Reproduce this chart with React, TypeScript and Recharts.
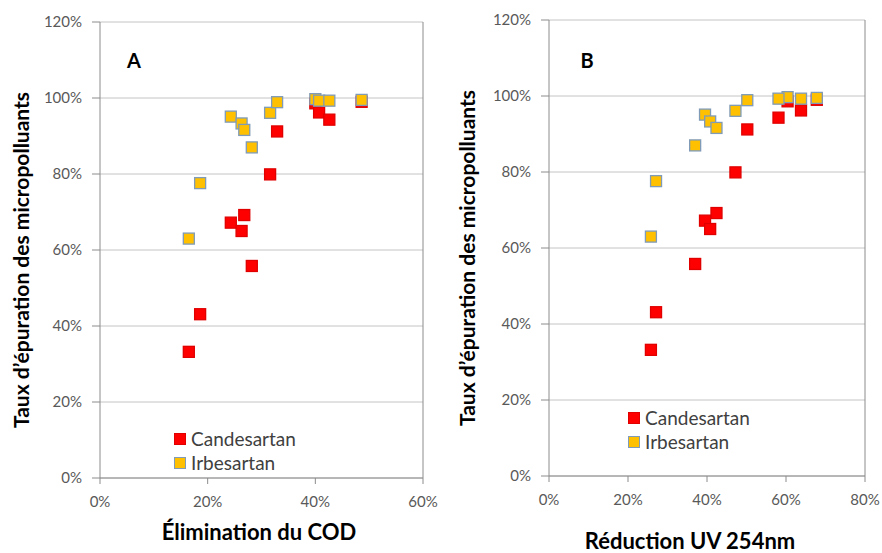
import { ScatterChart, Scatter, XAxis, YAxis, CartesianGrid, Legend, ReferenceLine } from 'recharts'

// values, in %
const codRemoval = [16.5, 18.6, 24.3, 26.3, 26.8, 28.2, 31.6, 32.9, 40.0, 40.7, 42.6, 48.6]
const uvReduction = [25.8, 27.1, 39.5, 40.8, 42.4, 37.0, 47.2, 50.2, 60.4, 63.8, 58.1, 67.8]
const candesartan = [33.2, 43.1, 67.2, 65.0, 69.2, 55.8, 79.9, 91.2, 98.6, 96.2, 94.3, 99.0]
const irbesartan = [63.0, 77.6, 95.1, 93.3, 91.6, 87.0, 96.1, 98.9, 99.7, 99.3, 99.3, 99.5]

const yTicks = [0, 20, 40, 60, 80, 100, 120]
const xTicksA = [0, 20, 40, 60]
const xTicksB = [0, 20, 40, 60, 80]

const FONT = 'Lato, "Open Sans", sans-serif'
const RED = '#ff0000'
const YELLOW = '#ffc000'
const YELLOW_EDGE = '#7f9bb8'
const AXIS = '#8c8c8c'
const GRID = '#c4c4c4'
const TICK = { fill: '#595959', fontSize: 15, fontFamily: FONT }

const series = [
  { name: 'Candesartan', values: candesartan, fill: RED, stroke: '#e00000' },
  { name: 'Irbesartan', values: irbesartan, fill: YELLOW, stroke: YELLOW_EDGE },
]

const toPoints = (xs: number[], ys: number[]) => xs.map((x, i) => ({ x, y: ys[i] }))

const square = (fill: string, stroke: string) => (props: any) => {
  const { cx, cy } = props
  if (cx == null || cy == null) return <g />
  return <rect x={cx - 5.5} y={cy - 5.5} width={11} height={11} fill={fill} stroke={stroke} strokeWidth={1.3} />
}

const LegendBox = () => (
  <div style={{ fontFamily: FONT, fontSize: 19, color: '#404040', lineHeight: '24px' }}>
    {series.map((s) => (
      <div key={s.name} style={{ display: 'flex', alignItems: 'center', whiteSpace: 'nowrap' }}>
        <span
          style={{
            display: 'inline-block',
            width: 10,
            height: 10,
            background: s.fill,
            border: `1px solid ${s.stroke}`,
            marginRight: 5,
          }}
        />
        {s.name}
      </div>
    ))}
  </div>
)

type PanelProps = {
  xs: number[]
  xMax: number
  xTicks: number[]
  yAxisWidth: number
  margin: { top: number; right: number; bottom: number; left: number }
  legendPos: { left: number; top: number }
}

function Panel({ xs, xMax, xTicks, yAxisWidth, margin, legendPos }: PanelProps) {
  return (
    <ScatterChart width={441} height={553} margin={margin}>
      <CartesianGrid vertical={false} stroke={GRID} horizontalValues={yTicks} />
      <XAxis
        type='number'
        dataKey='x'
        domain={[0, xMax]}
        ticks={xTicks}
        tickFormatter={(v) => `${v}%`}
        stroke={AXIS}
        tick={TICK}
        tickSize={6}
        tickMargin={12}
        height={30}
        interval={0}
      />
      <YAxis
        type='number'
        dataKey='y'
        domain={[0, 120]}
        ticks={yTicks}
        tickFormatter={(v) => `${v}%`}
        stroke={AXIS}
        tick={TICK}
        tickSize={8}
        tickMargin={10}
        width={yAxisWidth}
        interval={0}
      />
      <ReferenceLine x={xMax} stroke={AXIS} />
      <Legend
        layout='vertical'
        align='center'
        verticalAlign='middle'
        content={<LegendBox />}
        wrapperStyle={{ left: legendPos.left, top: legendPos.top, width: 'auto' }}
      />
      {series.map((s) => (
        <Scatter
          key={s.name}
          name={s.name}
          data={toPoints(xs, s.values)}
          shape={square(s.fill, s.stroke)}
          isAnimationActive={false}
        />
      ))}
    </ScatterChart>
  )
}

const titleStyle = { fontFamily: FONT, fontWeight: 700, fill: '#000' } as const

export default function App() {
  return (
    <div style={{ position: 'absolute', left: 0, top: 0, width: 882, height: 553, background: '#fff' }}>
      <div style={{ position: 'absolute', left: 0, top: 0 }}>
        <Panel
          xs={codRemoval}
          xMax={60}
          xTicks={xTicksA}
          yAxisWidth={100}
          margin={{ top: 22, right: 18, bottom: 45, left: 0 }}
          legendPos={{ left: 174, top: 427 }}
        />
      </div>
      <div style={{ position: 'absolute', left: 441, top: 0 }}>
        <Panel
          xs={uvReduction}
          xMax={80}
          xTicks={xTicksB}
          yAxisWidth={108}
          margin={{ top: 20, right: 17, bottom: 47, left: 0 }}
          legendPos={{ left: 187, top: 406 }}
        />
      </div>
      <svg
        width={882}
        height={553}
        style={{ position: 'absolute', left: 0, top: 0, pointerEvents: 'none' }}
      >
        <text x={134} y={68} textAnchor='middle' fontSize={20} {...titleStyle}>A</text>
        <text x={587} y={68} textAnchor='middle' fontSize={20} {...titleStyle}>B</text>
        <text
          x={22}
          y={260}
          dy='0.35em'
          textAnchor='middle'
          fontSize={21}
          transform='rotate(-90 22 260)'
          {...titleStyle}
        >
          Taux d’épuration des micropolluants
        </text>
        <text
          x={468}
          y={258}
          dy='0.35em'
          textAnchor='middle'
          fontSize={21}
          transform='rotate(-90 468 258)'
          {...titleStyle}
        >
          Taux d’épuration des micropolluants
        </text>
        <text x={259} y={540} textAnchor='middle' fontSize={22} {...titleStyle}>Élimination du COD</text>
        <text x={690} y={549} textAnchor='middle' fontSize={22} {...titleStyle}>Réduction UV 254nm</text>
      </svg>
    </div>
  )
}
